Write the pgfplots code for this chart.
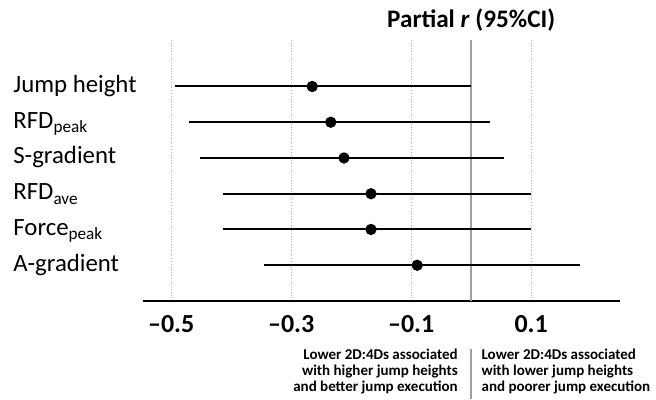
\documentclass[border=0pt]{standalone}
\usepackage{pgfplots}
\pgfplotsset{compat=1.18}
\usepackage{pgfplotstable}
\usepackage{fontspec}
\setmainfont{Carlito}
\newcommand\sub[1]{\raisebox{-2.2pt}{\fontsize{8.6}{9}\selectfont #1}}
\pgfplotstableread{
y x lo hi
6 -0.265 -0.494 0.000
5 -0.234 -0.470 0.031
4 -0.212 -0.452 0.055
3 -0.167 -0.413 0.100
2 -0.167 -0.413 0.100
1 -0.090 -0.345 0.181
}\cidata
\begin{document}
\begin{tikzpicture}
\begin{axis}[name=ax,
  scale only axis, width=238.5pt, height=130.5pt,
  xmin=-0.547, xmax=0.248, ymin=0, ymax=7.3,
  axis x line*=bottom, axis y line*=left,
  x axis line style={black, line width=1pt, -},
  y axis line style={draw=none},
  xtick={-0.5,-0.3,-0.1,0.1},
  xticklabels={\textbf{–0.5},\textbf{–0.3},\textbf{–0.1},\textbf{0.1}},
  xticklabel style={anchor=base, yshift=-16pt, font=\fontsize{13}{13}\selectfont},
  major tick length=0pt,
  xmajorgrids, grid style={densely dotted, gray!60, line width=0.5pt},
  ytick={1,2,3,4,5,6},
  yticklabels={A-gradient,Force\sub{peak},RFD\sub{ave},S-gradient,RFD\sub{peak},Jump height},
  yticklabel style={anchor=base west, xshift=-65pt, yshift=-3pt, inner sep=0pt, font=\fontsize{12.4}{13}\selectfont},
  clip=false,
]
\addplot[gray!75, line width=0.8pt] coordinates {(0,0) (0,7.3)};
\addplot[black, line width=1pt, mark=*, mark size=2.3pt, only marks,
  error bars/.cd, x dir=both, x explicit, error mark=none,
  error bar style={black, line width=1pt}]
  table[x=x, y=y, x error minus expr=\thisrow{x}-\thisrow{lo}, x error plus expr=\thisrow{hi}-\thisrow{x}] {\cidata};
\node[font=\fontsize{12.6}{13}\selectfont\bfseries] at ([yshift=10pt]axis cs:0,7.3) {Partial \textit{r} (95\%CI)};
\node[anchor=east, align=right, inner sep=0pt, font=\fontsize{7.5}{8}\selectfont\bfseries] at ([yshift=-35.5pt]axis cs:-0.0217,0) {Lower 2D:4Ds associated\\with higher jump heights\\and better jump execution};
\node[anchor=west, align=left, inner sep=0pt, font=\fontsize{7.5}{8}\selectfont\bfseries] at ([yshift=-35.5pt]axis cs:0.0167,0) {Lower 2D:4Ds associated\\with lower jump heights\\and poorer jump execution};
\draw[gray!75, line width=0.8pt] ([yshift=-24pt]axis cs:0,0) -- ([yshift=-49pt]axis cs:0,0);
\end{axis}
\path[use as bounding box] ([xshift=-71.5pt,yshift=-49pt]ax.south west) rectangle ([xshift=18pt,yshift=20pt]ax.north east);
\end{tikzpicture}
\end{document}
